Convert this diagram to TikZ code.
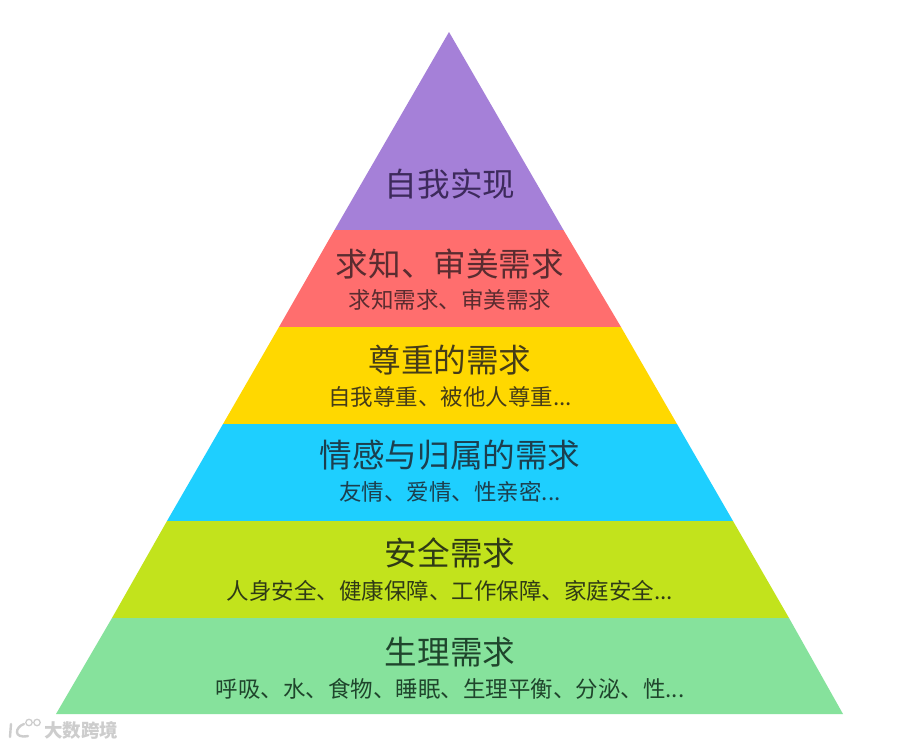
\documentclass[tikz,border=0pt]{standalone}
\usepackage{fontspec}
\setmainfont{Noto Sans CJK SC}
\definecolor{cPurple}{HTML}{A580D8}
\definecolor{cRed}{HTML}{FF6E6E}
\definecolor{cYellow}{HTML}{FFD800}
\definecolor{cBlue}{HTML}{1ECFFF}
\definecolor{cLime}{HTML}{C2E31C}
\definecolor{cMint}{HTML}{86E29C}
\definecolor{tPurple}{HTML}{3D2A5C}
\definecolor{tRed}{HTML}{5A2C30}
\definecolor{tYellow}{HTML}{453C18}
\definecolor{tBlue}{HTML}{1C3F4E}
\definecolor{tLime}{HTML}{2F3A16}
\definecolor{tMint}{HTML}{1F452C}
\definecolor{wm}{HTML}{CDCDCD}
\tikzset{
  band/.style={fill=#1,draw=none},
  title/.style={text=#1,inner sep=0pt,font=\fontsize{32.6}{36}\selectfont},
  sub/.style={text=#1,inner sep=0pt,font=\fontsize{22.5}{26}\selectfont},
  wmtext/.style={inner sep=0pt,text=wm,font=\fontsize{18.5}{20}\bfseries\selectfont},
}
\begin{document}
\begin{tikzpicture}[x=1pt,y=-1pt]
\useasboundingbox (0,0) rectangle (900,747);
\fill[white] (0,0) rectangle (900,747);
\fill[band=cPurple] (449,32) -- (563.5,230) -- (334.5,230) -- cycle;
\fill[band=cRed] (334.5,230) -- (563.5,230) -- (621,327) -- (279,327) -- cycle;
\fill[band=cYellow] (279,327) -- (621,327) -- (677,424) -- (223,424) -- cycle;
\fill[band=cBlue] (223,424) -- (677,424) -- (733,521) -- (167,521) -- cycle;
\fill[band=cLime] (167,521) -- (733,521) -- (789,618) -- (112,618) -- cycle;
\fill[band=cMint] (112,618) -- (789,618) -- (843,714) -- (56,714) -- cycle;
\node[title=tPurple] (t1) at (450,184) {自我实现};
\node[title=tRed] (t2) at (450,264) {求知、审美需求};
\node[sub=tRed] (s2) at (450,300) {求知需求、审美需求};
\node[title=tYellow] (t3) at (450,360) {尊重的需求};
\node[sub=tYellow] (s3) at (450,397) {自我尊重、被他人尊重...};
\node[title=tBlue] (t4) at (450,455) {情感与归属的需求};
\node[sub=tBlue] (s4) at (450,492) {友情、爱情、性亲密...};
\node[title=tLime] (t5) at (450,553) {安全需求};
\node[sub=tLime] (s5) at (450,591) {人身安全、健康保障、工作保障、家庭安全...};
\node[title=tMint] (t6) at (450,652) {生理需求};
\node[sub=tMint] (s6) at (450,689) {呼吸、水、食物、睡眠、生理平衡、分泌、性...};
% watermark
\draw[wm,line width=2.4pt,line cap=round] (11,724) -- (10,737);
\draw[wm,line width=2.4pt,line cap=round] (24,724) .. controls (15,727) and (13,739) .. (28,736);
\draw[wm,line width=1.3pt] (29,722.5) circle (3.2) (37,722.5) circle (3.2);
\node[wmtext,anchor=west] (wm) at (44,730.5) {大数跨境};
\end{tikzpicture}
\end{document}
